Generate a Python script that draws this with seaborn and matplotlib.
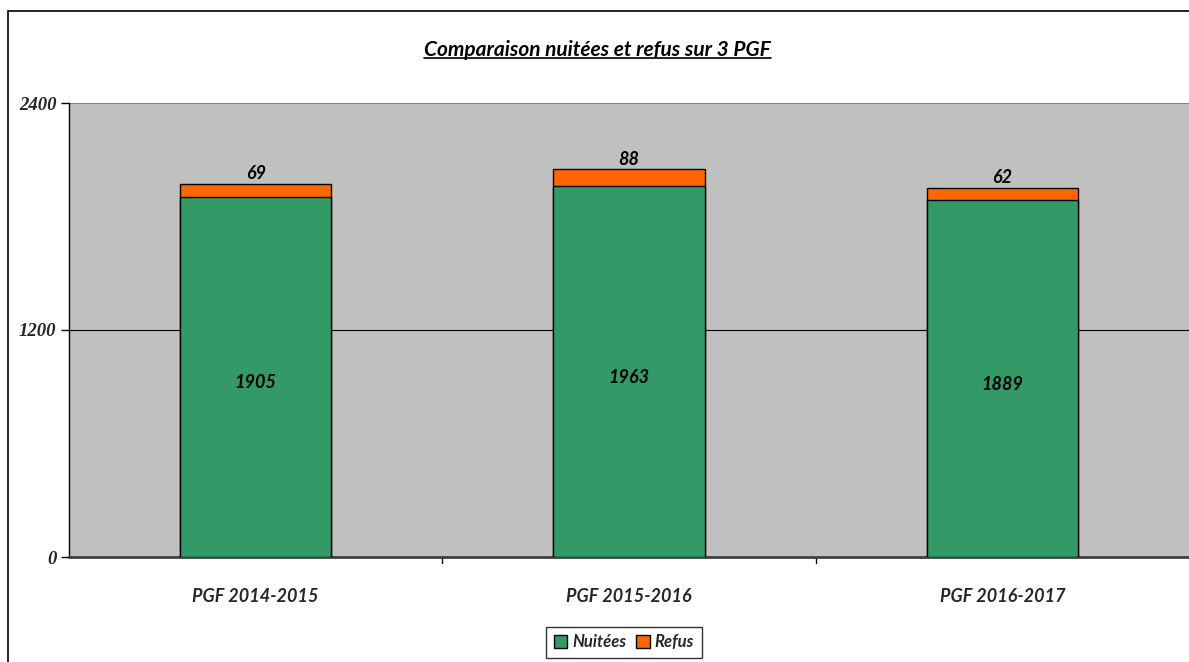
import matplotlib
matplotlib.use("Agg")
import matplotlib.pyplot as plt
from matplotlib.patches import Patch, Rectangle
from matplotlib.lines import Line2D
import seaborn as sns
import pandas as pd

periodes = ["PGF 2014-2015", "PGF 2015-2016", "PGF 2016-2017"]
nuitees = [1905, 1963, 1889]
refus = [69, 88, 62]
y_ticks = [0, 1200, 2400]

GREEN = "#339966"
ORANGE = "#FF6600"
GREY = "#C0C0C0"

sns.set_theme(style="white")
plt.rcParams["font.family"] = ["Lato", "DejaVu Sans"]

df = pd.DataFrame({"periode": periodes, "nuitees": nuitees, "refus": refus})
df["total"] = df["nuitees"] + df["refus"]

fig = plt.figure(figsize=(11.89, 6.62), dpi=100)
ax = fig.add_axes([69 / 1189, 105 / 662, 1 - 69 / 1189, 454 / 662])
ax.set_facecolor(GREY)

# stacked bars: total (refus on top) then nuitées over it
sns.barplot(data=df, x="periode", y="total", color=ORANGE, saturation=1,
            width=0.405, edgecolor="black", linewidth=1.0, ax=ax, zorder=3)
sns.barplot(data=df, x="periode", y="nuitees", color=GREEN, saturation=1,
            width=0.405, edgecolor="black", linewidth=1.0, ax=ax, zorder=3)

ax.set_xlim(-0.5, 2.5)
ax.set_ylim(0, 2400)
ax.set_yticks(y_ticks)
ax.set_yticklabels([str(v) for v in y_ticks], fontfamily="Liberation Serif",
                   fontweight="bold", fontstyle="italic", fontsize=13.5)
ax.tick_params(axis="y", left=True, length=6, width=1, color="black", pad=3)
ax.set_xticks([0, 1, 2])
ax.set_xticklabels(periodes, fontweight="bold", fontstyle="italic", fontsize=13)
ax.tick_params(axis="x", bottom=False, pad=16)
# category separators on the x axis
for xb in [0.5, 1.5]:
    ax.plot([xb, xb], [0, -0.014], transform=ax.get_xaxis_transform(),
            color="black", lw=1, clip_on=False)
ax.set_xlabel("")
ax.set_ylabel("")

ax.axhline(1200, color="black", lw=0.8, zorder=1)
for side in ["top", "right"]:
    ax.spines[side].set_visible(False)
ax.axhline(2400, color="#808080", lw=1.5, zorder=1)
ax.spines["left"].set_color("black")
ax.spines["left"].set_linewidth(1)
ax.spines["bottom"].set_color("#404040")
ax.spines["bottom"].set_linewidth(2)

# value labels
for i, (n, r) in enumerate(zip(nuitees, refus)):
    ax.text(i, n / 2 - 30, str(n), ha="center", va="center",
            fontsize=13, fontweight="bold", fontstyle="italic", color="black", zorder=5)
    ax.text(i, n + r + 8, str(r), ha="center", va="bottom",
            fontsize=13, fontweight="bold", fontstyle="italic", color="black", zorder=5)

# title with underline
title = fig.text(0.5025, 1 - 50 / 662, "Comparaison nuitées et refus sur 3 PGF",
                 ha="center", va="center", fontsize=15, fontweight="bold",
                 fontstyle="italic", color="black")
fig.canvas.draw()
bb = title.get_window_extent().transformed(fig.transFigure.inverted())
fig.add_artist(Line2D([bb.x0, bb.x1], [bb.y0 + 0.003, bb.y0 + 0.003],
                      transform=fig.transFigure, color="black", lw=1.2))

# legend
handles = [Patch(facecolor=GREEN, edgecolor="black", label="Nuitées"),
           Patch(facecolor=ORANGE, edgecolor="black", label="Refus")]
leg = fig.legend(handles=handles, loc="center", bbox_to_anchor=(624 / 1189, 1 - 642 / 662),
                 ncol=2, frameon=True, fancybox=False, handlelength=0.8, handleheight=0.8,
                 handletextpad=0.3, columnspacing=0.6, borderpad=0.45,
                 prop={"size": 12, "weight": "bold", "style": "italic"})
leg.get_frame().set_edgecolor("black")
leg.get_frame().set_linewidth(1)

# outer chart border
fig.add_artist(Rectangle((8 / 1189, -0.1), 1.1, 1 - 11 / 662 + 0.1,
                         transform=fig.transFigure, fill=False, edgecolor="black", lw=1.2))

fig.savefig("out.png", dpi=100)
